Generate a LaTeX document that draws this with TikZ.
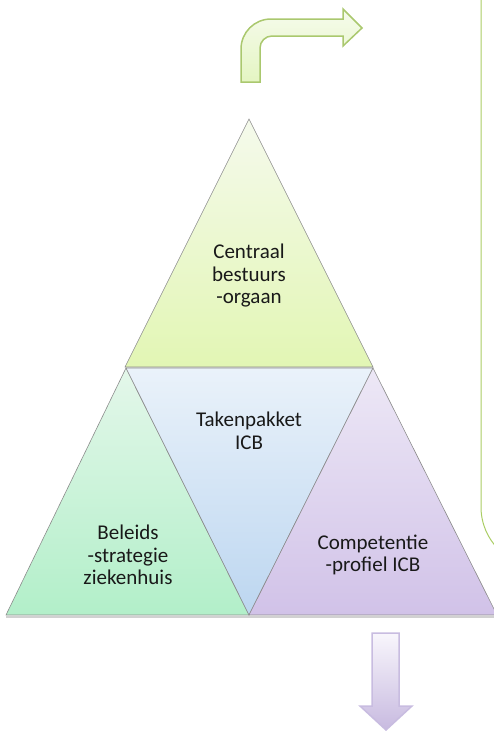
\documentclass[tikz,border=0pt]{standalone}
\usepackage{fontspec}
\setmainfont{Carlito}
\definecolor{edgegrey}{RGB}{140,140,140}
\definecolor{frameGreen}{RGB}{170,205,100}
\definecolor{bentTop}{RGB}{246,251,236}
\definecolor{bentBottom}{RGB}{228,245,194}
\definecolor{bentEdge}{RGB}{170,200,110}
\definecolor{apexTop}{RGB}{245,250,236}
\definecolor{apexBottom}{RGB}{226,246,180}
\definecolor{leftTop}{RGB}{228,247,234}
\definecolor{leftBottom}{RGB}{178,239,201}
\definecolor{midTop}{RGB}{234,242,250}
\definecolor{midBottom}{RGB}{188,214,240}
\definecolor{rightTop}{RGB}{237,232,246}
\definecolor{rightBottom}{RGB}{209,194,232}
\definecolor{downTop}{RGB}{248,246,252}
\definecolor{downBottom}{RGB}{200,186,224}
\definecolor{downEdge}{RGB}{200,188,224}
\begin{document}
\begin{tikzpicture}[x=1pt,y=-1pt,
  facet/.style={draw=edgegrey, line width=0.6pt},
  label/.style={align=center, font=\fontsize{21}{22.5}\selectfont, text=black!90, inner sep=0pt}]
\useasboundingbox (0,0) rectangle (494,731);
\clip (0,0) rectangle (494,731);

% frame on the right
\draw[draw=frameGreen, line width=1pt, rounded corners=60]
  (481,-40) -- (481,567) -- (560,567);

% bent arrow at the top
\shade[top color=bentTop, bottom color=bentBottom, draw=bentEdge, line width=1.5pt]
  (241,82) -- (241,49) .. controls (241,32.4) and (254.4,19) .. (271,19)
  -- (343,19) -- (343,9) -- (362,28) -- (343,46) -- (343,36) -- (272,36)
  .. controls (265.4,36) and (260,41.4) .. (260,48) -- (260,82) -- cycle;

% shadow under the base
\draw[black!18, line width=1.2pt] (6,617) -- (494,617);

% pyramid facets
\shade[facet, top color=apexTop, bottom color=apexBottom]
  (249,119) -- (373,367) -- (125,367) -- cycle;
\shade[facet, top color=leftTop, bottom color=leftBottom]
  (126,368) -- (249,615) -- (6,615) -- cycle;
\shade[facet, top color=midTop, bottom color=midBottom]
  (126,368) -- (373,368) -- (249,615) -- cycle;
\shade[facet, top color=rightTop, bottom color=rightBottom]
  (373,368) -- (497,615) -- (249,615) -- cycle;

% down arrow at the bottom
\shade[top color=downTop, bottom color=downBottom, draw=downEdge, line width=1.5pt]
  (372,633) -- (399,633) -- (399,706) -- (412,706) -- (386,730)
  -- (360,706) -- (372,706) -- cycle;

% labels
\node[label] (top) at (249,276) {Centraal\\bestuurs\\-orgaan};
\node[label] (mid) at (249,431) {Takenpakket\\ICB};
\node[label] (left) at (128,555) {Beleids\\-strategie\\ziekenhuis};
\node[label] (right) at (373,555) {Competentie\\-profiel ICB};
\end{tikzpicture}
\end{document}
